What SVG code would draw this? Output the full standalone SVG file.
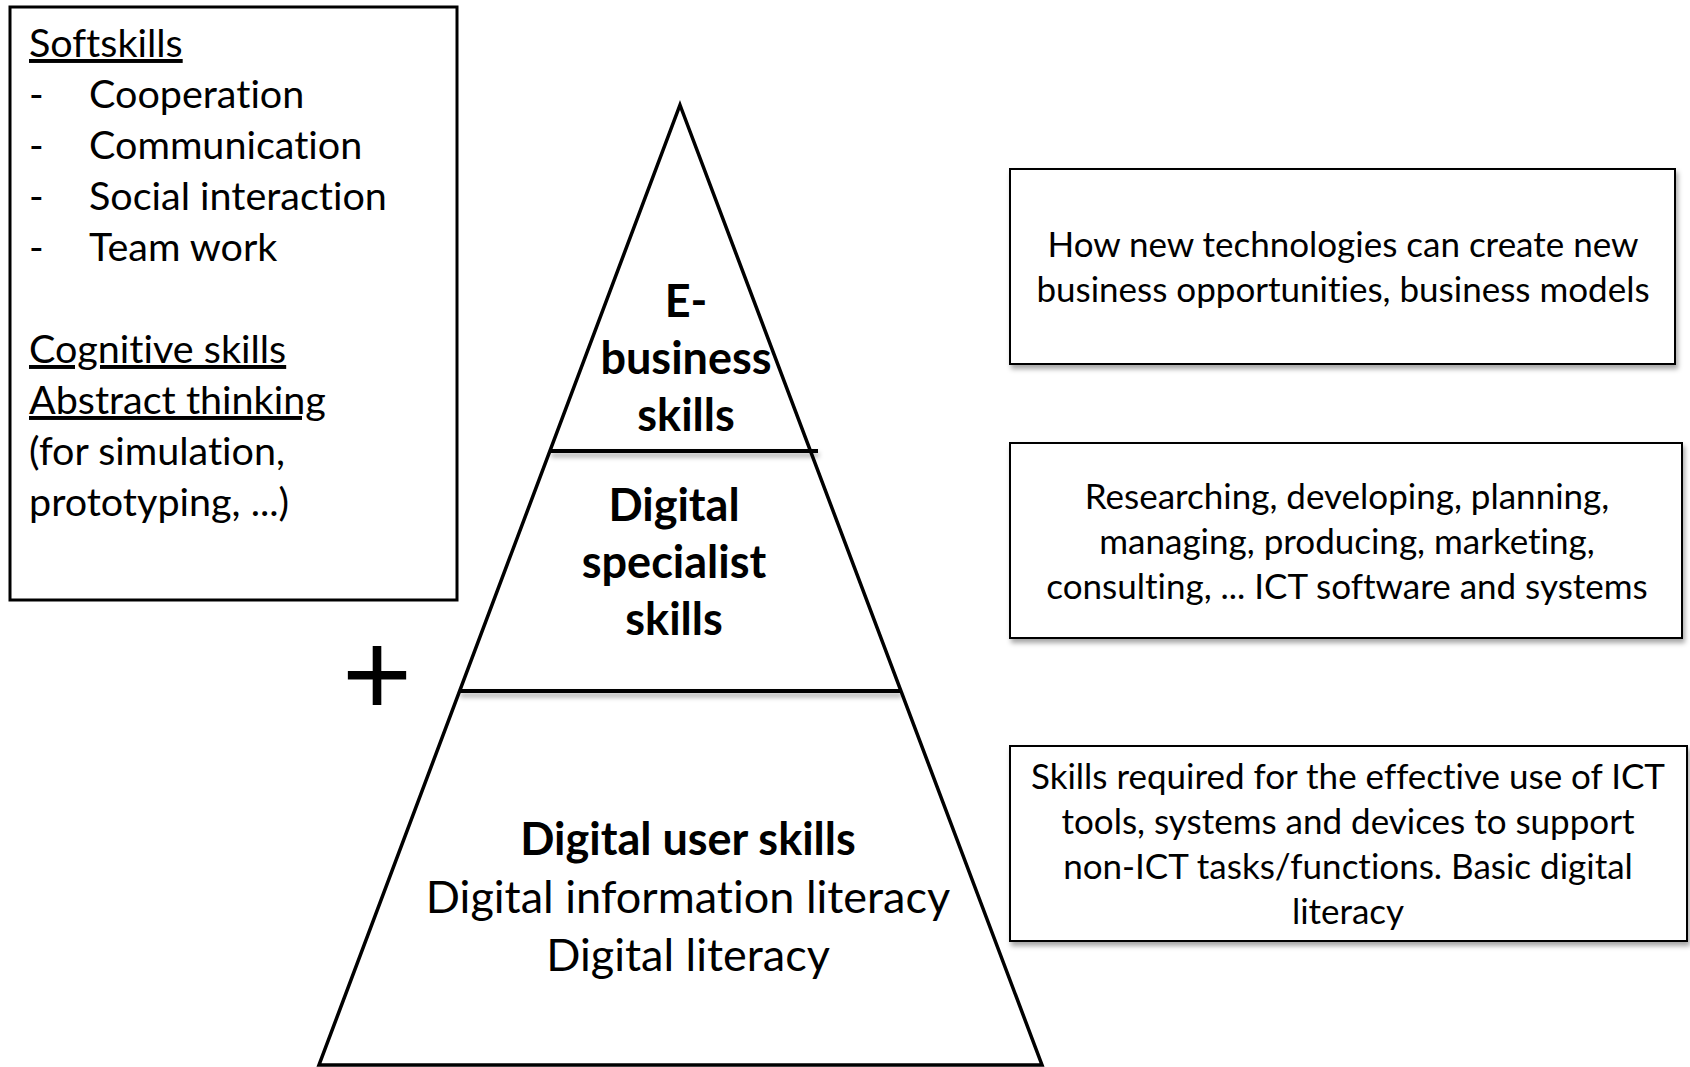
<svg xmlns="http://www.w3.org/2000/svg" width="1690" height="1067" viewBox="0 0 1690 1067">
  <style>
    .t { font-family: Lato, "Open Sans", "Liberation Sans", sans-serif; fill: #000; font-variant-ligatures: none; font-feature-settings: "liga" 0, "dlig" 0; }
    .left { font-size: 39.5px; }
    .desc { font-size: 35px; text-anchor: middle; }
    .pyr { font-size: 45px; text-anchor: middle; }
    .b { font-weight: bold; }
    .u { text-decoration: underline; }
    .box { fill: #fff; stroke: #000; stroke-width: 2; }
    .divider { stroke: #000; stroke-width: 4; fill: none; }
  </style>
  <defs>
    <filter id="shadow" x="-10%" y="-10%" width="120%" height="130%">
      <feDropShadow dx="2" dy="4" stdDeviation="2.5" flood-color="#000" flood-opacity="0.35"/>
    </filter>
    <filter id="lineShadow" filterUnits="userSpaceOnUse" x="0" y="0" width="1690" height="1067">
      <feDropShadow dx="1" dy="4" stdDeviation="2.5" flood-color="#000" flood-opacity="0.35"/>
    </filter>
  </defs>
  <rect width="1690" height="1067" fill="#fff"/>

  <g id="softskills-box">
    <rect x="10" y="7" width="447" height="593" fill="#fff" stroke="#000" stroke-width="3"/>
    <text class="t left u" x="29" y="57">Softskills</text>
    <text class="t left" x="29" y="108">-</text>
    <text class="t left" x="89" y="108">Cooperation</text>
    <text class="t left" x="29" y="159">-</text>
    <text class="t left" x="89" y="159">Communication</text>
    <text class="t left" x="29" y="210">-</text>
    <text class="t left" x="89" y="210">Social interaction</text>
    <text class="t left" x="29" y="261">-</text>
    <text class="t left" x="89" y="261">Team work</text>
    <text class="t left u" x="29" y="363">Cognitive skills</text>
    <text class="t left u" x="29" y="414">Abstract thinking</text>
    <text class="t left" x="29" y="465">(for simulation,</text>
    <text class="t left" x="29" y="516">prototyping, ...)</text>
  </g>

  <g id="plus">
    <text x="377" y="716" font-size="120" text-anchor="middle" style="font-family: 'Liberation Sans', sans-serif;">+</text>
  </g>

  <g id="pyramid">
    <polygon points="680,105 1042,1065 319,1065" fill="#fff" stroke="#000" stroke-width="3.5" stroke-linejoin="miter"/>
  </g>

  <g id="connectors">
    <line class="divider" x1="550" y1="451" x2="818" y2="451" filter="url(#lineShadow)"/>
    <line class="divider" x1="459" y1="691" x2="901" y2="691" filter="url(#lineShadow)"/>
  </g>

  <g id="ebusiness-level">
    <text class="t pyr b" x="686" y="317">E-</text>
    <text class="t pyr b" x="686" y="374">business</text>
    <text class="t pyr b" x="686" y="431">skills</text>
  </g>

  <g id="specialist-level">
    <text class="t pyr b" x="674" y="521">Digital</text>
    <text class="t pyr b" x="674" y="578">specialist</text>
    <text class="t pyr b" x="674" y="635">skills</text>
  </g>

  <g id="user-level">
    <text class="t pyr b" x="688" y="855">Digital user skills</text>
    <text class="t pyr" x="688" y="913">Digital information literacy</text>
    <text class="t pyr" x="688" y="971">Digital literacy</text>
  </g>

  <g id="ebusiness-desc">
    <rect class="box" x="1010" y="169" width="665" height="195" filter="url(#shadow)"/>
    <text class="t desc" x="1343" y="257">How new technologies can create new</text>
    <text class="t desc" x="1343" y="302">business opportunities, business models</text>
  </g>

  <g id="specialist-desc">
    <rect class="box" x="1010" y="443" width="672" height="195" filter="url(#shadow)"/>
    <text class="t desc" x="1347" y="509">Researching, developing, planning,</text>
    <text class="t desc" x="1347" y="554">managing, producing, marketing,</text>
    <text class="t desc" x="1347" y="599">consulting, ... ICT software and systems</text>
  </g>

  <g id="user-desc">
    <rect class="box" x="1010" y="746" width="677" height="195" filter="url(#shadow)"/>
    <text class="t desc" x="1348" y="789">Skills required for the effective use of ICT</text>
    <text class="t desc" x="1348" y="834">tools, systems and devices to support</text>
    <text class="t desc" x="1348" y="879">non-ICT tasks/functions. Basic digital</text>
    <text class="t desc" x="1348" y="924">literacy</text>
  </g>
</svg>
